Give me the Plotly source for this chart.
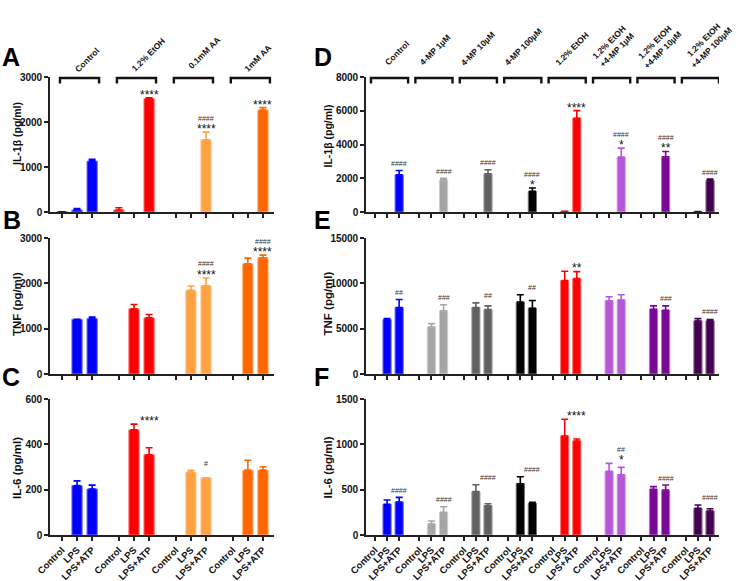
import plotly.graph_objects as go

W, H = 740, 581
FONT = "Liberation Sans, Arial, sans-serif"

# ---------------- data ----------------
conditions = ["Control", "LPS", "LPS+ATP"]

left_groups = ["Control", "1.2% EtOH", "0.1mM AA", "1mM AA"]
left_colors = ["#0000FF", "#FF0000", "#FFA243", "#FF6600"]

il1b_left = [[5, 45, 1130], [45, 0, 2520], [0, 0, 1605], [0, 0, 2265]]
il1b_left_err = [[0, 30, 40], [50, 0, 20], [0, 0, 170], [0, 0, 55]]
tnf_left = [[0, 1207, 1222], [0, 1437, 1237], [0, 1844, 1948], [0, 2430, 2563]]
tnf_left_err = [[0, 0, 37], [0, 96, 74], [0, 97, 171], [0, 126, 59]]
il6_left = [[0, 218, 203], [0, 464, 354], [0, 277, 252], [0, 286, 286]]
il6_left_err = [[0, 21, 17], [0, 25, 31], [0, 8, 0], [0, 44, 15]]

right_groups = ["Control", "4-MP 1µM", "4-MP 10µM", "4-MP 100µM", "1.2% EtOH",
                "1.2% EtOH<br>+4-MP 1µM", "1.2% EtOH<br>+4-MP 10µM", "1.2% EtOH<br>+4-MP 100µM"]
right_colors = ["#0000FF", "#A6A6A8", "#616161", "#000000", "#FF0000", "#B856D8", "#780A96", "#42004E"]

il1b_right = [[0, 0, 2200], [0, 0, 1892], [0, 0, 2266], [0, 0, 1222],
              [0, 40, 5557], [0, 0, 3251], [0, 0, 3271], [0, 20, 1852]]
il1b_right_err = [[0, 0, 263], [0, 0, 98], [0, 0, 234], [0, 0, 197],
                  [0, 0, 453], [0, 0, 532], [0, 0, 315], [0, 0, 99]]
tnf_right = [[0, 6000, 7330], [0, 5185, 6963], [0, 7333, 7111], [0, 7926, 7259],
             [0, 10296, 10518], [0, 8074, 8148], [0, 7148, 7037], [0, 5852, 5852]]
tnf_right_err = [[0, 110, 890], [0, 370, 667], [0, 517, 407], [0, 814, 852],
                 [0, 1037, 778], [0, 444, 592], [0, 370, 481], [0, 259, 148]]
il6_right = [[0, 338, 364], [0, 121, 250], [0, 478, 323], [0, 566, 349],
             [0, 1092, 1037], [0, 702, 665], [0, 504, 496], [0, 294, 265]]
il6_right_err = [[0, 48, 51], [0, 33, 62], [0, 77, 22], [0, 77, 11],
                 [0, 184, 22], [0, 88, 81], [0, 29, 55], [0, 37, 25]]

# significance marks, one per group (placed over LPS+ATP)
A_stars = ["", "****", "****", "****"]
A_hash = ["", "", "####", ""]
B_stars = ["", "", "****", "****"]
B_hash = ["", "", "####", "####"]
C_stars = ["", "****", "", ""]
C_hash = ["", "", "#", ""]
D_stars = ["", "", "", "*", "****", "*", "**", ""]
D_hash = ["####", "####", "####", "####", "", "####", "####", "####"]
E_stars = ["", "", "", "", "**", "", "", ""]
E_hash = ["##", "###", "##", "##", "", "", "###", "####"]
F_stars = ["", "", "", "", "****", "*", "", ""]
F_hash = ["####", "####", "####", "####", "", "##", "####", "####"]

# ---------------- layout helpers (positions given in window pixels) ----------------
def px(v):
    return v / W

def py(v):
    return 1 - v / H

def lighten(hexc, f=0.45):
    h = hexc.lstrip("#")
    r, g, b = int(h[0:2], 16), int(h[2:4], 16), int(h[4:6], 16)
    r = int(r + (255 - r) * f); g = int(g + (255 - g) * f); b = int(b + (255 - b) * f)
    return "#%02X%02X%02X" % (r, g, b)

fig = go.Figure()
annotations = []
shapes = []

LEFT = dict(groups=left_groups, colors=left_colors, period=3.77, xdom=(50, 274), pad=(0.79, 0.73))
RIGHT = dict(groups=right_groups, colors=right_colors, period=3.67, xdom=(366, 719), pad=(0.74, 0.74))

panels = [
    dict(n=1, side=LEFT, vals=il1b_left, errs=il1b_left_err, ydom=(77, 212), ymax=3000, dtick=1000,
         labels=False, stars=A_stars, hashes=A_hash, title="IL-1β (pg/ml)", tsize=10.5, letter="A",
         lxy=(11, 57), txy=(17, 134)),
    dict(n=2, side=LEFT, vals=tnf_left, errs=tnf_left_err, ydom=(238, 374), ymax=3000, dtick=1000,
         labels=False, stars=B_stars, hashes=B_hash, title="TNF (pg/ml)", tsize=11.5, letter="B",
         lxy=(12, 220), txy=(17, 304)),
    dict(n=3, side=LEFT, vals=il6_left, errs=il6_left_err, ydom=(399, 535), ymax=600, dtick=200,
         labels=True, stars=C_stars, hashes=C_hash, title="IL-6 (pg/ml)", tsize=11.5, letter="C",
         lxy=(11, 377), txy=(17, 468)),
    dict(n=4, side=RIGHT, vals=il1b_right, errs=il1b_right_err, ydom=(77, 212), ymax=8000, dtick=2000,
         labels=False, stars=D_stars, hashes=D_hash, title="IL-1β (pg/ml)", tsize=10.5, letter="D",
         lxy=(322.5, 57), txy=(327.5, 136)),
    dict(n=5, side=RIGHT, vals=tnf_right, errs=tnf_right_err, ydom=(238, 374), ymax=15000, dtick=5000,
         labels=False, stars=E_stars, hashes=E_hash, title="TNF (pg/ml)", tsize=11.5, letter="E",
         lxy=(322.5, 220), txy=(327.5, 304)),
    dict(n=6, side=RIGHT, vals=il6_right, errs=il6_right_err, ydom=(399, 535), ymax=1500, dtick=500,
         labels=True, stars=F_stars, hashes=F_hash, title="IL-6 (pg/ml)", tsize=11.5, letter="F",
         lxy=(321.5, 377), txy=(327.5, 468)),
]

layout_axes = {}
for p in panels:
    s = p["side"]
    n = p["n"]
    P = s["period"]
    xname = "x" if n == 1 else "x%d" % n
    yname = "y" if n == 1 else "y%d" % n
    ng = len(s["groups"])
    tickvals, ticktext = [], []
    for g in range(ng):
        xs, ys, es = [], [], []
        for i in range(3):
            xpos = g * P + i
            tickvals.append(xpos)
            ticktext.append(conditions[i])
            v = p["vals"][g][i]
            if v > 0:
                xs.append(xpos); ys.append(v); es.append(p["errs"][g][i])
        col = s["colors"][g]
        fig.add_trace(go.Bar(
            x=xs, y=ys, width=0.68, xaxis=xname, yaxis=yname,
            marker=dict(color=col, line=dict(color=lighten(col), width=1)),
            error_y=dict(type="data", symmetric=False, array=es, arrayminus=[0] * len(es),
                         color=col, thickness=1.6, width=3.5),
            showlegend=False, hoverinfo="skip"))
        # significance marks
        top = max(p["vals"][g][i] + p["errs"][g][i] for i in range(3))
        st = p["stars"][g]
        hs = p["hashes"][g]
        if st:
            annotations.append(dict(x=g * P + 2, y=top, xref=xname, yref=yname, text=st,
                                    showarrow=False, xanchor="center", yanchor="bottom", yshift=-6,
                                    font=dict(family=FONT, size=12, color="#111")))
        if hs:
            annotations.append(dict(x=g * P + 2, y=top, xref=xname, yref=yname, text=hs,
                                    showarrow=False, xanchor="center", yanchor="bottom",
                                    yshift=(8.5 if st else 1.5),
                                    font=dict(family=FONT, size=7, color="#333")))
    lo = -s["pad"][0]
    hi = (ng - 1) * P + 2 + s["pad"][1]
    layout_axes["xaxis" if n == 1 else "xaxis%d" % n] = dict(
        domain=[px(s["xdom"][0]), px(s["xdom"][1])], range=[lo, hi], anchor=yname,
        automargin=False,
        tickmode="array", tickvals=tickvals, ticktext=ticktext, showticklabels=p["labels"],
        tickangle=-45, tickfont=dict(family=FONT, size=9.5, color="#111", weight="bold"),
        ticks="outside", ticklen=4, tickwidth=1.5, tickcolor="#222",
        showline=True, linecolor="#222", linewidth=1.6, showgrid=False, zeroline=False)
    layout_axes["yaxis" if n == 1 else "yaxis%d" % n] = dict(
        domain=[py(p["ydom"][1]), py(p["ydom"][0])], range=[0, p["ymax"]], anchor=xname,
        automargin=False,
        tickmode="linear", tick0=0, dtick=p["dtick"], tickformat="d",
        tickfont=dict(family=FONT, size=10, color="#111", weight="bold"),
        ticks="outside", ticklen=4, tickwidth=1.5, tickcolor="#222",
        showline=True, linecolor="#222", linewidth=1.6, showgrid=False, zeroline=False)
    # panel letter
    annotations.append(dict(x=px(p["lxy"][0]), y=py(p["lxy"][1]), xref="paper", yref="paper",
                            text=p["letter"], showarrow=False, xanchor="center", yanchor="middle",
                            font=dict(family=FONT, size=25, color="#000", weight="bold")))
    # y title
    annotations.append(dict(x=px(p["txy"][0]), y=py(p["txy"][1]), xref="paper", yref="paper",
                            text=p["title"], showarrow=False, textangle=-90,
                            xanchor="center", yanchor="middle",
                            font=dict(family=FONT, size=p["tsize"], color="#111", weight="bold")))

# group brackets and rotated group labels above the top panels
left_label_xy = [(87, 60), (148, 55), (204, 53), (258, 58)]
right_label_xy = [(397, 53), (435, 50.5), (477.5, 49), (523, 47), (572, 49.5),
                  (612.5, 46.5), (658, 46), (708, 44)]
for s, xname, lxy, (dl, dr) in [(LEFT, "x", left_label_xy, (0.13, 0.46)),
                                (RIGHT, "x4", right_label_xy, (0.33, 0.74))]:
    P = s["period"]
    for g, name in enumerate(s["groups"]):
        x0 = g * P - dl
        x1 = g * P + 2 + dr
        shapes.append(dict(type="path", xref=xname, yref="paper",
                           path="M %f,%f L %f,%f L %f,%f L %f,%f" % (x0, py(83.5), x0, py(78), x1, py(78), x1, py(83.5)),
                           line=dict(color="#111", width=2.4)))
        annotations.append(dict(x=px(lxy[g][0]), y=py(lxy[g][1]), xref="paper", yref="paper",
                                text=name, showarrow=False, textangle=-45,
                                xanchor="center", yanchor="middle",
                                font=dict(family=FONT, size=8.5, color="#111", weight="bold")))

fig.update_layout(
    template="none",
    width=W, height=H, autosize=False,
    margin=dict(l=0, r=0, t=0, b=0, pad=0),
    paper_bgcolor="white", plot_bgcolor="white",
    font=dict(family=FONT, color="#111"),
    barmode="overlay", showlegend=False,
    annotations=annotations, shapes=shapes,
    **layout_axes,
)

# remove the default page margin so the figure fills the window exactly
fig.write_html("out.html", config={"displayModeBar": False},
               post_script="document.body.style.margin='0px';")
